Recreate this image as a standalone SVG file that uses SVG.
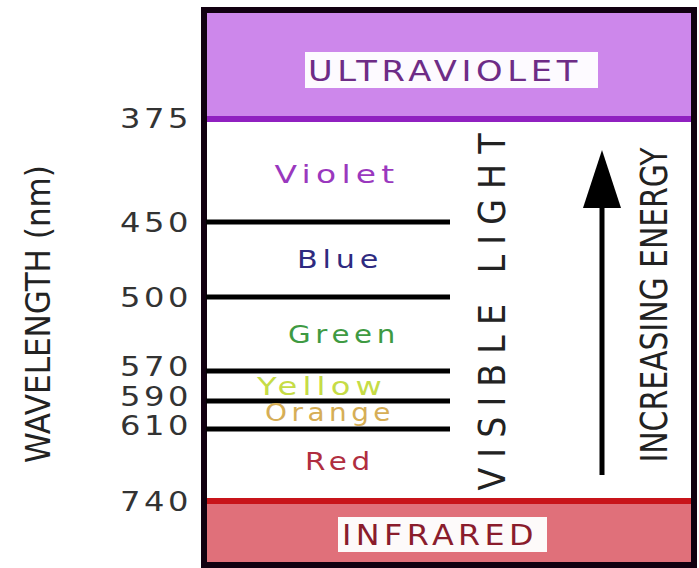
<svg xmlns="http://www.w3.org/2000/svg" width="699" height="568" viewBox="0 0 699 568">
<style>
.num{font-family:"DejaVu Sans",sans-serif;font-size:27px;fill:#333;text-anchor:end;letter-spacing:3px}
.col{font-family:"DejaVu Sans",sans-serif;font-size:25px;text-anchor:middle;letter-spacing:4px}
.band{font-family:"DejaVu Sans",sans-serif;font-size:29px;text-anchor:middle;letter-spacing:4px}
.cond{font-family:"DejaVu Sans Condensed","DejaVu Sans",sans-serif;fill:#222;text-anchor:middle}
.bound{stroke:#000;stroke-width:5}
</style>
<rect width="699" height="568" fill="#fff"/>
<g id="ultraviolet">
<rect x="204" y="10" width="490" height="109" fill="#CD87EB"/>
<rect x="305" y="52" width="293" height="36" fill="#FDFAFF"/>
<text class="band" x="445" y="81" fill="#6E2C86" textLength="274" lengthAdjust="spacingAndGlyphs">ULTRAVIOLET</text>
</g>
<g id="infrared">
<rect x="204" y="501" width="490" height="64" fill="#E0707A"/>
<rect x="338" y="517" width="209" height="35" fill="#FDFAFA"/>
<text class="band" x="440" y="545" fill="#8A1C2C" textLength="196" lengthAdjust="spacingAndGlyphs">INFRARED</text>
</g>
<g id="frame">
<line x1="204" y1="119" x2="694" y2="119" stroke="#9020C0" stroke-width="6"/>
<line x1="204" y1="501" x2="694" y2="501" stroke="#C8141A" stroke-width="6"/>
<rect x="204" y="10" width="490" height="555" fill="none" stroke="#110010" stroke-width="6"/>
</g>
<g id="boundaries">
<line class="bound" x1="206" y1="222" x2="450" y2="222"/>
<line class="bound" x1="206" y1="297" x2="450" y2="297"/>
<line class="bound" x1="206" y1="371" x2="450" y2="371"/>
<line class="bound" x1="206" y1="401" x2="450" y2="401"/>
<line class="bound" x1="206" y1="429" x2="450" y2="429"/>
</g>
<g id="wavelengths">
<text class="num" x="192" y="128" textLength="72" lengthAdjust="spacingAndGlyphs">375</text>
<text class="num" x="192" y="232" textLength="72" lengthAdjust="spacingAndGlyphs">450</text>
<text class="num" x="192" y="307" textLength="72" lengthAdjust="spacingAndGlyphs">500</text>
<text class="num" x="192" y="376" textLength="72" lengthAdjust="spacingAndGlyphs">570</text>
<text class="num" x="192" y="406" textLength="72" lengthAdjust="spacingAndGlyphs">590</text>
<text class="num" x="192" y="435" textLength="72" lengthAdjust="spacingAndGlyphs">610</text>
<text class="num" x="192" y="511" textLength="72" lengthAdjust="spacingAndGlyphs">740</text>
</g>
<g id="colors">
<text class="col" x="337" y="183" fill="#9A38BE" textLength="125" lengthAdjust="spacingAndGlyphs">Violet</text>
<text class="col" x="340" y="268" fill="#2E2A80" textLength="86" lengthAdjust="spacingAndGlyphs">Blue</text>
<text class="col" x="344" y="343" fill="#3E9A42" textLength="112" lengthAdjust="spacingAndGlyphs">Green</text>
<text class="col" x="322" y="395" fill="#C6DC46" textLength="130" lengthAdjust="spacingAndGlyphs">Yellow</text>
<text class="col" x="330" y="421" fill="#D6AE56" textLength="130" lengthAdjust="spacingAndGlyphs">Orange</text>
<text class="col" x="340" y="470" fill="#B02E40" textLength="70" lengthAdjust="spacingAndGlyphs">Red</text>
</g>
<g id="axis-label">
<text class="cond" transform="translate(50,314) rotate(-90)" font-size="34" textLength="298" lengthAdjust="spacingAndGlyphs">WAVELENGTH (nm)</text>
</g>
<g id="visible-light">
<text class="cond" transform="translate(505,312) rotate(-90)" font-size="37" textLength="357">VISIBLE LIGHT</text>
</g>
<g id="energy-label">
<text class="cond" transform="translate(667,305) rotate(-90)" font-size="38" textLength="315" lengthAdjust="spacingAndGlyphs">INCREASING ENERGY</text>
</g>
<g id="connectors">
<line x1="602" y1="475" x2="602" y2="205" stroke="#000" stroke-width="5"/>
<polygon points="602,150 583,208 621,208" fill="#000"/>
</g>
</svg>
